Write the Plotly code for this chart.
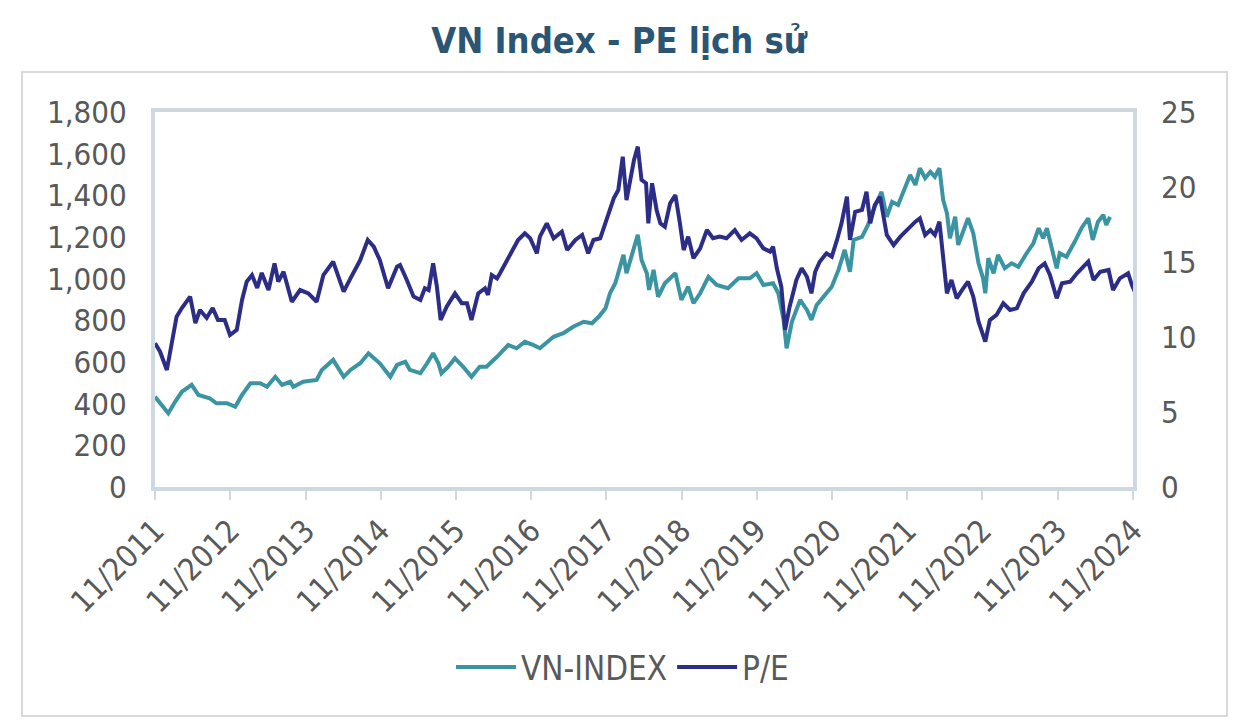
import pandas as pd
import plotly.graph_objects as go

# ---- data (time as decimal year) ----
PE_T = [2011.833, 2011.90, 2011.99, 2012.06, 2012.12, 2012.19, 2012.30, 2012.37, 2012.43, 2012.52,
        2012.60, 2012.67, 2012.76, 2012.83, 2012.92, 2012.99, 2013.05, 2013.12, 2013.19, 2013.25,
        2013.34, 2013.42, 2013.47, 2013.54, 2013.65, 2013.76, 2013.87, 2013.98, 2014.07, 2014.20,
        2014.34, 2014.43, 2014.56, 2014.66, 2014.74, 2014.82, 2014.93, 2015.05, 2015.09, 2015.18,
        2015.27, 2015.36, 2015.42, 2015.47, 2015.53, 2015.58, 2015.63, 2015.71, 2015.82, 2015.91,
        2015.98, 2016.04, 2016.13, 2016.22, 2016.26, 2016.31, 2016.38, 2016.42, 2016.51, 2016.57,
        2016.66, 2016.75, 2016.82, 2016.91, 2016.95, 2017.04, 2017.13, 2017.24, 2017.31, 2017.42,
        2017.51, 2017.59, 2017.66, 2017.75, 2017.79, 2017.86, 2017.93, 2017.99, 2018.05, 2018.10,
        2018.16, 2018.20, 2018.25, 2018.30, 2018.36, 2018.39, 2018.44, 2018.50, 2018.55, 2018.61,
        2018.68, 2018.75, 2018.81, 2018.86, 2018.92, 2018.99, 2019.08, 2019.17, 2019.25, 2019.34,
        2019.43, 2019.54, 2019.63, 2019.74, 2019.83, 2019.92, 2020.01, 2020.05, 2020.10, 2020.16,
        2020.21, 2020.27, 2020.36, 2020.43, 2020.50, 2020.56, 2020.61, 2020.67, 2020.76, 2020.83,
        2020.90, 2020.96, 2021.03, 2021.07, 2021.14, 2021.23, 2021.29, 2021.34, 2021.40, 2021.47,
        2021.56, 2021.65, 2021.74, 2021.85, 2021.94, 2022.00, 2022.07, 2022.14, 2022.20, 2022.26,
        2022.31, 2022.36, 2022.42, 2022.49, 2022.56, 2022.64, 2022.71, 2022.78, 2022.87, 2022.93,
        2023.02, 2023.11, 2023.20, 2023.29, 2023.38, 2023.49, 2023.58, 2023.66, 2023.73, 2023.82,
        2023.89, 2024.00, 2024.09, 2024.17, 2024.24, 2024.31, 2024.40, 2024.51, 2024.57, 2024.66,
        2024.77, 2024.82, 2024.86]
PE_V = [9.58, 9.02, 7.8, 9.58, 11.35, 11.93, 12.69, 10.93, 11.8, 11.27,
        11.93, 11.13, 11.13, 10.13, 10.47, 12.47, 13.69, 14.13, 13.27, 14.27,
        13.13, 14.91, 13.69, 14.35, 12.35, 13.13, 12.91, 12.35, 14.13, 15.02,
        13.02, 13.91, 15.13, 16.47, 16.02, 15.13, 13.25, 14.69, 14.8, 13.8,
        12.69, 12.47, 13.25, 13.13, 14.91, 13.35, 11.13, 12.02, 12.91, 12.25,
        12.25, 11.13, 12.91, 13.25, 12.8, 14.13, 13.91, 14.25, 15.13, 15.58,
        16.47, 16.91, 16.58, 15.58, 16.69, 17.58, 16.58, 17.02, 15.8, 16.47,
        16.8, 15.58, 16.47, 16.58, 17.13, 18.13, 19.25, 19.8, 22.02, 19.13,
        20.91, 21.8, 22.69, 20.47, 20.25, 17.58, 20.25, 18.47, 17.58, 17.35,
        18.91, 19.47, 17.58, 15.8, 16.69, 15.25, 15.91, 17.13, 16.58, 16.69,
        16.58, 17.13, 16.47, 16.91, 16.58, 15.91, 15.69, 16.02, 14.58, 13.35,
        10.47, 12.02, 13.8, 14.58, 14.02, 12.91, 14.35, 15.02, 15.58, 15.35,
        16.47, 17.58, 19.35, 16.47, 18.35, 18.47, 19.69, 17.58, 18.8, 19.35,
        16.8, 16.13, 16.69, 17.25, 17.69, 17.91, 16.8, 17.13, 16.8, 17.69,
        15.13, 12.91, 13.8, 12.58, 13.13, 13.69, 12.69, 11.02, 9.69, 11.13,
        11.47, 12.25, 11.8, 11.91, 12.91, 13.69, 14.58, 14.91, 14.13, 12.58,
        13.58, 13.69, 14.25, 14.69, 15.02, 13.8, 14.35, 14.47, 13.13, 13.91,
        14.25, 13.47, 13.02]

VN_T = [2011.833, 2011.90, 2012.01, 2012.10, 2012.19, 2012.32, 2012.41, 2012.56, 2012.65, 2012.79,
        2012.90, 2012.99, 2013.10, 2013.23, 2013.32, 2013.43, 2013.52, 2013.63, 2013.67, 2013.80,
        2013.98, 2014.05, 2014.20, 2014.34, 2014.43, 2014.56, 2014.67, 2014.82, 2014.96, 2015.05,
        2015.16, 2015.22, 2015.36, 2015.45, 2015.53, 2015.60, 2015.64, 2015.73, 2015.82, 2015.93,
        2016.04, 2016.15, 2016.24, 2016.38, 2016.53, 2016.64, 2016.75, 2016.86, 2016.95, 2017.13,
        2017.26, 2017.39, 2017.53, 2017.64, 2017.73, 2017.82, 2017.88, 2017.95, 2018.01, 2018.06,
        2018.10, 2018.17, 2018.25, 2018.30, 2018.37, 2018.40, 2018.46, 2018.52, 2018.61, 2018.75,
        2018.83, 2018.92, 2018.99, 2019.08, 2019.19, 2019.30, 2019.45, 2019.59, 2019.74, 2019.83,
        2019.92, 2020.05, 2020.12, 2020.19, 2020.23, 2020.30, 2020.41, 2020.50, 2020.56, 2020.63,
        2020.72, 2020.83, 2020.92, 2021.00, 2021.07, 2021.12, 2021.23, 2021.31, 2021.40, 2021.49,
        2021.56, 2021.63, 2021.71, 2021.78, 2021.87, 2021.94, 2022.00, 2022.07, 2022.14, 2022.20,
        2022.26, 2022.31, 2022.36, 2022.40, 2022.47, 2022.51, 2022.58, 2022.64, 2022.71, 2022.78,
        2022.84, 2022.87, 2022.91, 2022.98, 2023.04, 2023.13, 2023.22, 2023.31, 2023.42, 2023.51,
        2023.58, 2023.64, 2023.69, 2023.75, 2023.82, 2023.86, 2023.95, 2024.06, 2024.15, 2024.24,
        2024.30, 2024.37, 2024.44, 2024.48, 2024.53]
VN_V = [433, 402, 354, 409, 457, 490, 442, 426, 402, 402,
        385, 442, 498, 498, 481, 529, 490, 505, 481, 505,
        514, 562, 610, 529, 562, 594, 642, 594, 529, 586,
        601, 562, 546, 594, 642, 594, 546, 577, 618, 577,
        529, 577, 577, 625, 682, 666, 697, 682, 666, 721,
        738, 769, 793, 786, 817, 858, 930, 978, 1057, 1114,
        1026, 1105, 1210, 1090, 1026, 946, 1042, 913, 978, 1026,
        898, 961, 882, 930, 1009, 970, 954, 1002, 1002, 1026,
        970, 978, 930, 802, 666, 793, 898, 850, 802, 874,
        913, 961, 1042, 1138, 1033, 1186, 1201, 1258, 1345, 1417,
        1297, 1369, 1354, 1417, 1498, 1450, 1530, 1482, 1513, 1489,
        1530, 1378, 1314, 1194, 1297, 1162, 1234, 1290, 1218, 1074,
        1002, 930, 1098, 1026, 1114, 1050, 1074, 1057, 1122, 1170,
        1242, 1194, 1242, 1153, 1050, 1122, 1105, 1177, 1242, 1290,
        1186, 1273, 1306, 1258, 1297]

TICK_YEARS = list(range(2011, 2025))
TITLE = "VN Index - PE lịch sử"


def to_date(dec_years):
    s = pd.Series(dec_years, dtype=float)
    yr = s.astype(int)
    start = pd.to_datetime(yr.astype(str) + "-01-01")
    days = (s - yr) * 365.25
    return start + pd.to_timedelta(days, unit="D")


tick_dates = [pd.Timestamp(f"{y}-11-01") for y in TICK_YEARS]
tick_text = [f"11/{y}" for y in TICK_YEARS]

FONT = "DejaVu Sans Condensed, Liberation Sans Narrow, DejaVu Sans, sans-serif"
GREY = "#595959"
TEAL = "#3A94A2"
NAVY = "#2B2D86"
BORDER = "#CDD8E1"

# the page adds an 8px body margin, so the figure is 8px smaller than the window
W, H = 1234, 712

fig = go.Figure()
fig.add_trace(go.Scatter(x=to_date(VN_T), y=VN_V, name="VN-INDEX", mode="lines",
                         line=dict(color=TEAL, width=4)))
fig.add_trace(go.Scatter(x=to_date(PE_T), y=PE_V, name="P/E", mode="lines", yaxis="y2",
                         line=dict(color=NAVY, width=4)))

fig.update_layout(
    width=W, height=H,
    margin=dict(l=147, r=109, t=104, b=233, autoexpand=False),
    paper_bgcolor="white", plot_bgcolor="white",
    font=dict(family=FONT, size=31, color=GREY),
    title=dict(text="<b>" + TITLE + "</b>", x=(619 - 8) / W, xanchor="center", xref="container",
               y=1 - 32 / H, yanchor="middle", yref="container",
               font=dict(family=FONT, size=36, color="#2A5674")),
    xaxis=dict(type="date", range=[tick_dates[0], tick_dates[-1]],
               tickvals=tick_dates, ticktext=tick_text, tickangle=-45,
               ticks="outside", ticklen=9, tickwidth=2, tickcolor="#D0D7DD",
               showgrid=False, zeroline=False,
               showline=True, mirror=True, linecolor=BORDER, linewidth=4,
               tickfont=dict(size=31, color=GREY)),
    yaxis=dict(range=[0, 1800], dtick=200, tickformat=",", showgrid=False, zeroline=False,
               showline=True, mirror=True, linecolor=BORDER, linewidth=4,
               ticks="", ticklabelstandoff=18, tickfont=dict(size=31, color=GREY)),
    yaxis2=dict(range=[0, 25], dtick=5, overlaying="y", side="right", showgrid=False,
                zeroline=False, showline=False, ticks="", ticklabelstandoff=27,
                tickfont=dict(size=31, color=GREY)),
    legend=dict(orientation="h", x=0.478, xanchor="center", y=-0.48, yanchor="middle",
                font=dict(size=33, color=GREY), itemwidth=60, bgcolor="rgba(0,0,0,0)"),
    showlegend=True,
)

# outer chart frame
fig.add_shape(type="rect", xref="paper", yref="paper",
              x0=(22 - 155) / 978, x1=(1227 - 155) / 978,
              y0=(487 - 716) / 375, y1=(487 - 72) / 375,
              line=dict(color="#D9D9D9", width=2), fillcolor="rgba(0,0,0,0)", layer="below")

fig.write_html("out.html")
